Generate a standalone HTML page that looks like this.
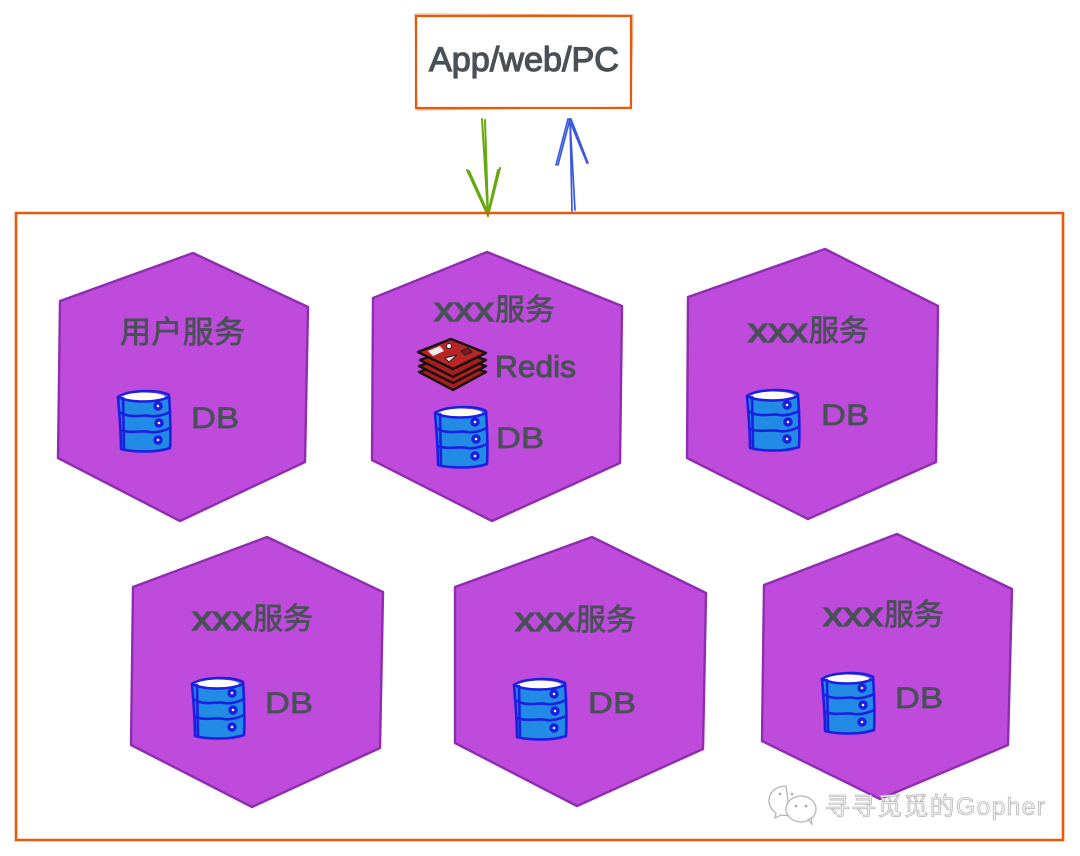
<!DOCTYPE html>
<html><head><meta charset="utf-8">
<style>
html,body{margin:0;padding:0;background:#fff;width:1080px;height:856px;overflow:hidden}
svg{display:block}
text{font-family:"Liberation Sans","Noto Sans CJK SC",sans-serif;fill:#495057;stroke:#495057;stroke-width:.7px}
</style></head>
<body>
<svg width="1080" height="856" viewBox="0 0 1080 856" xmlns="http://www.w3.org/2000/svg">
<defs>
<g id="db">
  <path d="M1 7 C12 1 40 1 51 7 L52 56 C40 63 12 63 2 56 Z" fill="#228be6"/>
  <ellipse cx="25" cy="7" rx="22" ry="4.5" fill="#fff"/>
  <g fill="none" stroke="#1c1fe0" stroke-width="2.6" stroke-linejoin="round" stroke-linecap="round">
    <path d="M0 7 C10 0 40 -1 51 5 C52 20 53 40 52 58 C38 63 14 62 3 59 C3 40 1 20 0 7 Z"/>
    <path d="M0 7 C12 13 38 13 51 7"/>
    <path d="M3 23 C14 29 26 24 32 26 C38 27 46 25 52 22"/>
    <path d="M3 40 C14 44 24 40 32 42 C38 43 46 41 52 38"/>
    <path d="M5 8 L6 58"/>
  </g>
  <g fill="#fff" stroke="#1c1fe0" stroke-width="3.5">
    <circle cx="40" cy="16" r="3"/><circle cx="41" cy="33" r="3"/><circle cx="40" cy="50" r="3"/>
  </g>
</g>
<g id="dbt"><text x="0" y="0" font-size="30" textLength="48" lengthAdjust="spacingAndGlyphs">DB</text></g>
</defs>

<!-- top box -->
<rect x="416" y="16" width="215" height="92" fill="#fff" stroke="#e8590c" stroke-width="2.2"/>
<path d="M415 14 L633 15 L631 108 M417 110 L632 107 M415 14 L417 110" stroke="#e8590c" stroke-width="1" fill="none" opacity=".55"/>
<text x="429" y="71" font-size="34" textLength="190" lengthAdjust="spacingAndGlyphs" style="stroke-width:1.2px">App/web/PC</text>

<!-- arrows -->
<g fill="none" stroke="#66a80f" stroke-width="2" stroke-linecap="round">
  <path d="M482 119 L488 216 M485 120 L488 214"/>
  <path d="M467 170 L488 216 M500 168 L488 216 M469 171 L488 213 M498 170 L488 213"/>
</g>
<g fill="none" stroke="#3b5bdb" stroke-width="1.7" stroke-linecap="round">
  <path d="M570 119 L572 211 M570 120 L575 210"/>
  <path d="M556 165 L568 119 M558 165 L570 119 M569 119 L587 163 M571 119 L588 163"/>
</g>

<!-- main container -->
<path d="M16 213 L1063 213 L1063 840 L16 840 Z" fill="none" stroke="#e8590c" stroke-width="2.6"/>

<!-- hexagons -->
<g fill="#be4bdb" stroke="#8f2db0" stroke-width="2.4" stroke-linejoin="round">
  <polygon points="60,301 193,253 308,307 305,462 180,521 58,458"/>
  <polygon points="373,298 487,252 622,306 620,463 492,521 372,460"/>
  <polygon points="688,297 825,249 938,306 936,462 808,519 687,458"/>
  <polygon points="133,587 267,537 383,592 380,748 252,807 131,745"/>
  <polygon points="455,587 592,537 706,593 703,749 577,806 455,743"/>
  <polygon points="764,585 897,534 1012,589 1008,745 880,799 762,741"/>
</g>

<!-- labels -->
<text x="120" y="343" font-size="31" textLength="125">用户服务</text>

<text x="434" y="321" font-size="34" textLength="60" lengthAdjust="spacingAndGlyphs" style="stroke-width:1.3px">xxx</text>
<text x="495" y="320" font-size="30" textLength="60">服务</text>
<text x="748" y="342" font-size="34" textLength="60" lengthAdjust="spacingAndGlyphs" style="stroke-width:1.3px">xxx</text>
<text x="809" y="341" font-size="30" textLength="60">服务</text>
<text x="192" y="630" font-size="34" textLength="60" lengthAdjust="spacingAndGlyphs" style="stroke-width:1.3px">xxx</text>
<text x="253" y="629" font-size="30" textLength="60">服务</text>
<text x="515" y="631" font-size="34" textLength="60" lengthAdjust="spacingAndGlyphs" style="stroke-width:1.3px">xxx</text>
<text x="576" y="630" font-size="30" textLength="60">服务</text>
<text x="823" y="626" font-size="34" textLength="60" lengthAdjust="spacingAndGlyphs" style="stroke-width:1.3px">xxx</text>
<text x="884" y="625" font-size="30" textLength="60">服务</text>

<!-- redis -->
<text x="495" y="377" font-size="31" textLength="81" lengthAdjust="spacingAndGlyphs" style="stroke-width:1px">Redis</text>
<g stroke="#1a1010" stroke-width="2.4" stroke-linejoin="round">
  <polygon points="419,372 452,361 486,372 453,390" fill="#a61e1e"/>
  <polygon points="419,366 452,355 486,366 453,383" fill="#b32020"/>
  <polygon points="420,360 452,349 486,360 453,377" fill="#a61e1e"/>
  <polygon points="418,352 451,339 486,353 453,369" fill="#b92424"/>
</g>
<path d="M428 351 L440 346 L444 351 L433 356 Z" fill="#eee"/>
<path d="M445 358 L457 355 L449 362 Z" fill="#fff" stroke="#222"/>
<circle cx="449" cy="346" r="2.5" fill="#fff" stroke="#222"/>
<path d="M461 351 L468 348 L472 352 L465 355 Z" fill="#8c1616" stroke="#222"/>

<!-- databases -->
<use href="#db" x="118" y="390"/>
<use href="#db" x="435" y="406"/>
<use href="#db" x="747" y="389"/>
<use href="#db" x="192" y="677"/>
<use href="#db" x="514" y="678"/>
<use href="#db" x="822" y="672"/>

<use href="#dbt" x="191" y="428"/>
<use href="#dbt" x="496" y="448"/>
<use href="#dbt" x="821" y="425"/>
<use href="#dbt" x="265" y="713"/>
<use href="#dbt" x="588" y="713"/>
<use href="#dbt" x="895" y="708"/>

<!-- watermark -->
<g fill="#fff" fill-opacity=".9" stroke="#b5b5b5" stroke-width="1.3">
  <path d="M786 786 C775 786 769 793 769 801 C769 806 772 810 776 813 L775 818 L781 815 L790 816 Z"/>
  <ellipse cx="801" cy="809" rx="15" ry="13"/>
  <path d="M808 820 L812 824 L811 818 Z"/>
</g>
<g fill="#aaa"><circle cx="780" cy="794" r="1.4"/><circle cx="792" cy="794" r="1.4"/><circle cx="796" cy="806" r="1.4"/><circle cx="806" cy="806" r="1.4"/></g>
<text x="825" y="815" font-size="25" textLength="220" style="fill:#f2f2f2;stroke:#a8a8a8;stroke-width:.6px">寻寻觅觅的Gopher</text>
</svg>
</body></html>
